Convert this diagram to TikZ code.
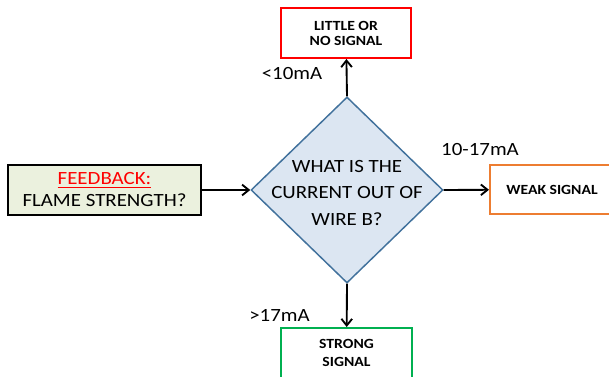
\documentclass[tikz,border=0pt]{standalone}
\usepackage{fontspec}
\setmainfont{Carlito}[FakeStretch=1.12]
\usetikzlibrary{shapes.geometric,arrows.meta}
\definecolor{askfill}{HTML}{DCE6F2}
\definecolor{askline}{HTML}{41719C}
\definecolor{feedfill}{HTML}{EBF1DE}
\definecolor{weakline}{HTML}{ED7D31}
\definecolor{strongline}{HTML}{00B050}
\tikzset{
	outbox/.style={draw=#1, line width=1.5pt, fill=white, inner sep=0pt, align=center, font=\fontsize{10.5}{11.25}\selectfont\bfseries},
	flow/.style={line width=1.4pt, -{Straight Barb[length=5pt,width=8pt]}},
	mAlabel/.style={anchor=base, font=\fontsize{14}{16}\selectfont}
}
\begin{document}
\begin{tikzpicture}[x=0.75pt, y=-0.75pt]
			%%%%% START %%%%%
			\useasboundingbox (0, 0) rectangle (609, 377);
			
			\node[draw=black, line width=1.5pt, fill=feedfill, minimum width=144.75pt, minimum height=37.5pt, inner sep=0pt, align=center, font=\fontsize{14}{16.5}\selectfont] (feedback) at (104.5, 190) {\textcolor{red}{\underline{FEEDBACK:}}\\FLAME STRENGTH?};
			
			\node[diamond, draw=askline, line width=1.1pt, fill=askfill, minimum width=144pt, minimum height=139.5pt, inner sep=0pt] (ask) at (347, 190) {};
			\node[align=center, font=\fontsize{14}{20}\selectfont] (asktext) at (347, 193) {WHAT IS THE\\CURRENT OUT OF\\WIRE B?};
			
			\node[outbox=red, minimum width=97.5pt, minimum height=37.5pt] (little) at (346, 33) {LITTLE OR\\NO SIGNAL};
			\node[outbox=weakline, minimum width=93pt, minimum height=36.75pt] (weak) at (552, 189.5) {WEAK SIGNAL};
			\node[outbox=strongline, minimum width=98pt, minimum height=37.5pt, font=\fontsize{10.5}{13.5}\selectfont\bfseries] (strong) at (346.5, 353) {STRONG\\SIGNAL};
			
			\draw[flow] (feedback) -- (ask.west);
			\draw[flow] (ask.north) -- (little);
			\draw[flow] (ask.east) -- (weak);
			\draw[flow] (ask.south) -- (strong);
			
			\node[mAlabel] (lowmA) at (292, 80) {<10mA};
			\node[mAlabel] (midmA) at (480, 156) {10-17mA};
			\node[mAlabel] (highmA) at (279.5, 321) {>17mA};
			%%%%% END %%%%%
		\end{tikzpicture}
\end{document}
